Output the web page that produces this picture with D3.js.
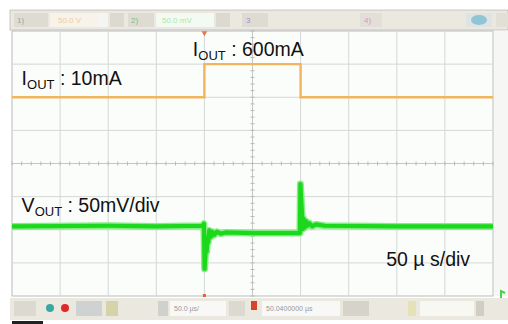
<!DOCTYPE html>
<html>
<head>
<meta charset="utf-8">
<script src="https://cdn.jsdelivr.net/npm/d3@7"></script>
<style>
  body { margin: 0; background: #fff; }
  svg { display: block; font-family: "Liberation Sans", Arial, sans-serif; }
</style>
</head>
<body>
<div id="chart"></div>
<script>
// time axis: 50 us/div, 10 divisions, trigger at centre
var timeTicks = [-250, -200, -150, -100, -50, 0, 50, 100, 150, 200, 250];
var divTicks = [-4, -3, -2, -1, 0, 1, 2, 3, 4];

// channel 1: load current (mA)
var ioutTime = [-250, -50, -50, 50, 50, 250];
var ioutMA   = [10, 10, 600, 600, 10, 10];

// channel 2: output voltage deviation (mV), 50 mV/div
var voutTime = [-250, -150, -100, -52, -50.5, -49.8, -49.2, -48.4, -47.6, -46.8, -46, -45, -43.5, -42, -40, -37, -33, -28, 0, 30, 48.5, 49.3, 49.8, 50.6, 51.4, 52.2, 53, 54, 55.5, 57, 59, 62, 66, 75, 150, 250];
var voutMV   = [0, 1, 0, 1, 4, -64, -48, -30, -38, -16, -24, -6, -16, -8, -13, -8, -11, -9, -10, -10, -10, -10, 64, 40, 20, -4, 12, -2, 8, 1, 5, 0, 3, 1, 0, 0];

var labels = [
  { main: "I", sub: "OUT", rest: " : 10mA",     t: -240, d: 2.36 },
  { main: "I", sub: "OUT", rest: " : 600mA",    t: -62,  d: 3.25 },
  { main: "V", sub: "OUT", rest: " : 50mV/div", t: -240, d: -1.45 },
  { main: "",  sub: "",    rest: "50 \u00b5 s/div", t: 139, d: -3.1 }
];

var width = 508, height = 324;
var plot = { left: 12, right: 493, top: 31, bottom: 296 };

var svg = d3.select("#chart").append("svg")
  .attr("width", width)
  .attr("height", height);

var x = d3.scaleLinear().domain([-250, 250]).range([plot.left, plot.right]);
var y = d3.scaleLinear().domain([-4, 4]).range([plot.bottom, plot.top]);

// channel offsets in divisions
var ch1 = d3.scaleLinear().domain([10, 600]).range([2, 3]);
var ch2 = function(mv){ return -1.9 + mv / 50; };

// top status bar
svg.append("rect").attr("x", 10).attr("y", 10).attr("width", 498).attr("height", 20)
  .attr("fill", "#ebe9df").attr("stroke", "#a9a9a4").attr("stroke-width", 0.6);
var topItems = [
  { x: 14, w: 34, c: "#dedcd2" }, { x: 50, w: 48, c: "#f7f3ea" }, { x: 98, w: 10, c: "#f4f6f4" },
  { x: 110, w: 14, c: "#dcdad0" }, { x: 128, w: 26, c: "#dedcd2" }, { x: 156, w: 58, c: "#f3faf3" },
  { x: 216, w: 14, c: "#dcdad0" }, { x: 242, w: 26, c: "#dedcd2" }, { x: 360, w: 22, c: "#e2e0d6" },
  { x: 466, w: 26, c: "#dfe3e4" }, { x: 496, w: 12, c: "#e2e0d6" }
];
svg.selectAll(".topitem").data(topItems).enter().append("rect")
  .attr("x", function(d){ return d.x; }).attr("y", 13).attr("width", function(d){ return d.w; }).attr("height", 14)
  .attr("fill", function(d){ return d.c; });
var topText = [
  { x: 17, t: "1)", c: "#777" }, { x: 58, t: "50.0 V", c: "#f0b060" }, { x: 131, t: "2)", c: "#4a4" },
  { x: 162, t: "50.0 mV", c: "#7d7" }, { x: 246, t: "3", c: "#85d" }, { x: 364, t: "4)", c: "#c6c" }
];
svg.selectAll(".toptext").data(topText).enter().append("text")
  .attr("x", function(d){ return d.x; }).attr("y", 23).attr("font-size", 8)
  .attr("fill", function(d){ return d.c; }).attr("opacity", 0.6).text(function(d){ return d.t; });
svg.append("ellipse").attr("cx", 479).attr("cy", 20).attr("rx", 8).attr("ry", 5).attr("fill", "#8ec6d6");

// plot area
svg.append("rect").attr("x", plot.left).attr("y", plot.top)
  .attr("width", plot.right - plot.left).attr("height", plot.bottom - plot.top)
  .attr("fill", "#fbfdfb").attr("stroke", "#b9bcb9");
svg.append("rect").attr("x", plot.right + 1).attr("y", plot.top).attr("width", 14).attr("height", plot.bottom - plot.top)
  .attr("fill", "#f6f6f4");

// grid
svg.append("g").selectAll("line").data(timeTicks.slice(1, -1)).enter().append("line")
  .attr("x1", function(d){ return x(d); }).attr("x2", function(d){ return x(d); })
  .attr("y1", plot.top).attr("y2", plot.bottom)
  .attr("stroke", function(d){ return d === 0 ? "#c4c7c4" : "#d4d8d4"; });
svg.append("g").selectAll("line").data(divTicks.slice(1, -1)).enter().append("line")
  .attr("y1", function(d){ return y(d); }).attr("y2", function(d){ return y(d); })
  .attr("x1", plot.left).attr("x2", plot.right)
  .attr("stroke", function(d){ return d === 0 ? "#c4c7c4" : "#d4d8d4"; });

// minor ticks on centre lines
var minorT = d3.range(-250, 250.01, 10);
var minorD = d3.range(-4, 4.01, 0.2);
svg.append("g").selectAll("line").data(minorT).enter().append("line")
  .attr("x1", function(d){ return x(d); }).attr("x2", function(d){ return x(d); })
  .attr("y1", y(0) - 2).attr("y2", y(0) + 2).attr("stroke", "#b8bab8");
svg.append("g").selectAll("line").data(minorD).enter().append("line")
  .attr("y1", function(d){ return y(d); }).attr("y2", function(d){ return y(d); })
  .attr("x1", x(0) - 2).attr("x2", x(0) + 2).attr("stroke", "#b8bab8");

// trigger markers
svg.append("path").attr("d", d3.symbol().type(d3.symbolTriangle).size(14)())
  .attr("transform", "translate(" + x(-50) + "," + (plot.top + 2) + ") rotate(180)").attr("fill", "#e07a50");
svg.append("rect").attr("x", x(-50) - 1.5).attr("y", plot.bottom - 2).attr("width", 3).attr("height", 3).attr("fill", "#e06040");

// traces
var line = d3.line().x(function(d){ return x(d[0]); }).y(function(d){ return y(d[1]); });

var ioutData = ioutTime.map(function(t, i){ return [t, ch1(ioutMA[i])]; });
svg.append("path").datum(ioutData).attr("d", line)
  .attr("fill", "none").attr("stroke", "#f2b45c").attr("stroke-width", 2.4);

var voutData = voutTime.map(function(t, i){ return [t, ch2(voutMV[i])]; });
svg.append("path").datum(voutData).attr("d", line)
  .attr("fill", "none").attr("stroke", "#86ec86").attr("stroke-width", 7).attr("stroke-linejoin", "round");
svg.append("path").datum(voutData).attr("d", line)
  .attr("fill", "none").attr("stroke", "#1cd81c").attr("stroke-width", 4.2).attr("stroke-linejoin", "round");

// channel ground marker at the right
svg.append("path").attr("d", "M0,0 L0,-9 L4,-7 M0,0 L-3,2")
  .attr("transform", "translate(501,300)").attr("stroke", "#4ccf4c").attr("stroke-width", 2).attr("fill", "none");

// labels
var lab = svg.selectAll(".lab").data(labels).enter().append("text")
  .attr("class", "lab")
  .attr("x", function(d){ return x(d.t); })
  .attr("y", function(d){ return y(d.d); })
  .attr("font-size", 19.5).attr("fill", "#111");
lab.append("tspan").text(function(d){ return d.main; });
lab.append("tspan").attr("font-size", 13).attr("dy", 4).text(function(d){ return d.sub; });
lab.append("tspan").attr("dy", function(d){ return d.sub ? -4 : 0; }).text(function(d){ return d.rest; });

// bottom toolbar
svg.append("rect").attr("x", 10).attr("y", 298).attr("width", 498).attr("height", 22)
  .attr("fill", "#ebe9df");
var botItems = [
  { x: 14, w: 22, c: "#dcdad0" }, { x: 76, w: 26, c: "#cfd2d2" }, { x: 106, w: 12, c: "#d5d3a8" },
  { x: 158, w: 10, c: "#d0d0cc" }, { x: 170, w: 56, c: "#f8f8f6" }, { x: 229, w: 16, c: "#dcdad0" },
  { x: 262, w: 78, c: "#f8f8f6" }, { x: 343, w: 26, c: "#d6d4ca" }, { x: 408, w: 8, c: "#e6e2b8" },
  { x: 420, w: 54, c: "#f8f8f2" }, { x: 476, w: 8, c: "#cfcdc4" }
];
svg.selectAll(".botitem").data(botItems).enter().append("rect")
  .attr("x", function(d){ return d.x; }).attr("y", 301).attr("width", function(d){ return d.w; }).attr("height", 15)
  .attr("fill", function(d){ return d.c; });
svg.append("circle").attr("cx", 50).attr("cy", 308).attr("r", 4).attr("fill", "#3aa7a0");
svg.append("circle").attr("cx", 65).attr("cy", 308).attr("r", 4).attr("fill", "#e02828");
svg.append("rect").attr("x", 251).attr("y", 301).attr("width", 6).attr("height", 9).attr("fill", "#d8442a");
var botText = [ { x: 174, t: "50.0 \u00b5s/" }, { x: 266, t: "50.0400000 \u00b5s" } ];
svg.selectAll(".bottext").data(botText).enter().append("text")
  .attr("x", function(d){ return d.x; }).attr("y", 311).attr("font-size", 7).attr("fill", "#999")
  .text(function(d){ return d.t; });
svg.append("rect").attr("x", 12).attr("y", 321).attr("width", 31).attr("height", 3).attr("fill", "#222");
</script>
</body>
</html>
